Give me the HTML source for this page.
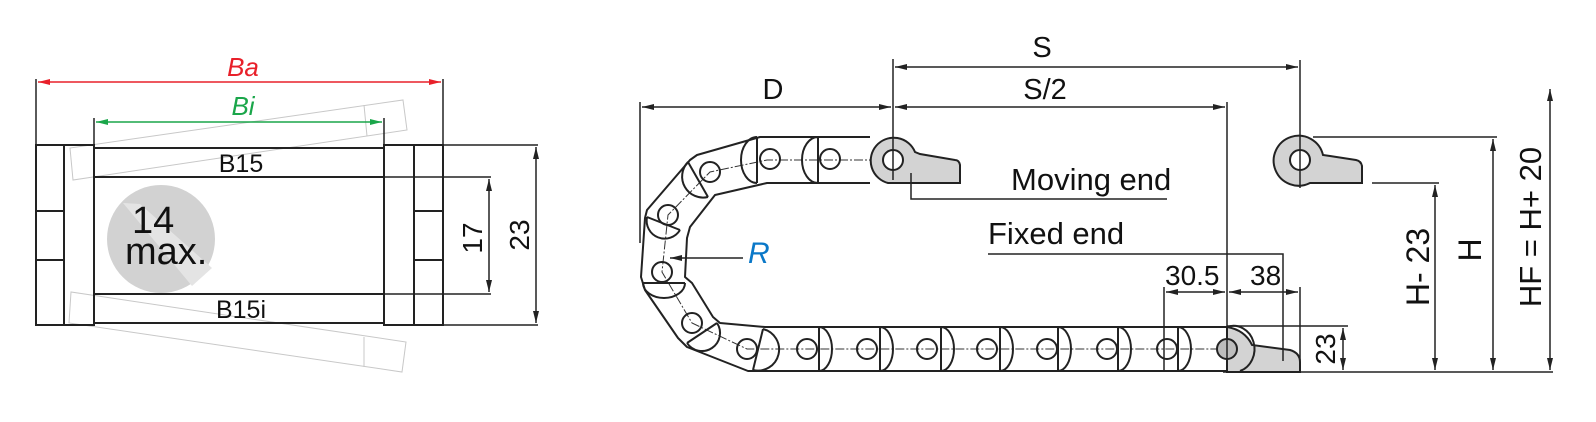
<!DOCTYPE html>
<html><head><meta charset="utf-8"><style>
html,body{margin:0;padding:0;background:#fff;}
svg{display:block;}
text{font-family:"Liberation Sans",Arial,sans-serif;fill:#111;}
</style></head><body>
<svg width="1596" height="422" viewBox="0 0 1596 422" xmlns="http://www.w3.org/2000/svg">
<defs>
<marker id="a" viewBox="0 0 12 6" refX="12" refY="3" markerWidth="12" markerHeight="6" markerUnits="userSpaceOnUse" orient="auto-start-reverse"><path d="M0,0 L12,3 L0,6 Z" fill="#222"/></marker>
<marker id="ar" viewBox="0 0 12 6" refX="12" refY="3" markerWidth="12" markerHeight="6" markerUnits="userSpaceOnUse" orient="auto-start-reverse"><path d="M0,0 L12,3 L0,6 Z" fill="#e8202a"/></marker>
<marker id="ag" viewBox="0 0 12 6" refX="12" refY="3" markerWidth="12" markerHeight="6" markerUnits="userSpaceOnUse" orient="auto-start-reverse"><path d="M0,0 L12,3 L0,6 Z" fill="#1aa64a"/></marker>
</defs>

<g fill="none" stroke="#c8c8c8" stroke-width="1">
<polygon points="70,148 73,180 407,130 403,100"/>
<line x1="364" y1="105" x2="367" y2="136"/>
<polygon points="71,292 69,323 402,372 406,342"/>
<line x1="364" y1="337" x2="364" y2="367"/>
</g>
<circle cx="161" cy="239" r="54" fill="#d2d2d2"/>
<polygon points="123,203 140,204 212,268 192,286" fill="#e4e4e4"/>
<text x="132" y="233" font-size="38">14</text>
<text x="125" y="264" font-size="38">max.</text>

<g stroke="#222" stroke-width="2" fill="none">
<rect x="36" y="145" width="28" height="180"/>
<rect x="64" y="145" width="30" height="180"/>
<line x1="36" y1="211" x2="64" y2="211"/><line x1="36" y1="260" x2="64" y2="260"/>
<rect x="384" y="145" width="30" height="180"/>
<rect x="414" y="145" width="29" height="180"/>
<line x1="414" y1="211" x2="443" y2="211"/><line x1="414" y1="260" x2="443" y2="260"/>
<rect x="94" y="148" width="290" height="29"/>
<rect x="94" y="294" width="290" height="29"/>
<line x1="384" y1="177" x2="491" y2="177" stroke-width="1.5"/>
<line x1="384" y1="294" x2="491" y2="294" stroke-width="1.5"/>
<line x1="443" y1="145" x2="538" y2="145" stroke-width="1.5"/>
<line x1="443" y1="325" x2="538" y2="325" stroke-width="1.5"/>
</g>
<g stroke="#222" stroke-width="1.5">
<line x1="36" y1="79" x2="36" y2="175"/>
<line x1="443" y1="79" x2="443" y2="145"/>
<line x1="94" y1="118" x2="94" y2="148"/>
<line x1="384" y1="118" x2="384" y2="148"/>
<line x1="489" y1="179" x2="489" y2="292" marker-start="url(#a)" marker-end="url(#a)"/>
<line x1="536" y1="147" x2="536" y2="323" marker-start="url(#a)" marker-end="url(#a)"/>
</g>
<line x1="38" y1="82" x2="441" y2="82" stroke="#e8202a" stroke-width="1.5" marker-start="url(#ar)" marker-end="url(#ar)"/>
<line x1="96" y1="122" x2="382" y2="122" stroke="#1aa64a" stroke-width="1.5" marker-start="url(#ag)" marker-end="url(#ag)"/>
<text x="243" y="76" font-size="26" font-style="italic" text-anchor="middle" style="fill:#e8202a">Ba</text>
<text x="243" y="115" font-size="26" font-style="italic" text-anchor="middle" style="fill:#1aa64a">Bi</text>
<text x="241" y="172" font-size="25" text-anchor="middle">B15</text>
<text x="241" y="318" font-size="25" text-anchor="middle">B15i</text>
<text transform="translate(482,238) rotate(-90)" font-size="28" text-anchor="middle">17</text>
<text transform="translate(529,235) rotate(-90)" font-size="28" text-anchor="middle">23</text>

<path d="M893,160 L767,160 L710,172 L668,215 L662,272 L692,323 L747,349 L1227,349" fill="none" stroke="#333" stroke-width="1" stroke-dasharray="9 2 2 2"/>
<g stroke="#222" stroke-width="2" fill="none" stroke-linejoin="round">
<path d="M870,137 L760,137 L697,155 L690,160 L647,210 L645,218 L641,277 L645,290 L678,338 L687,347 L748,371 L1227,371"/>
<path d="M870,183 L767,183 L715,195 L690,227 L687,238 L685,277 L692,283 L713,317 L720,323 L765,327 L1227,327"/>
<path d="M757,137 L757,183 M757,137 A16,23 0 0,0 757,183"/>
<path d="M818,137 L818,183 M818,137 A16,23 0 0,0 818,183"/>
<path d="M688,162 L708,197 M688,162 A21,21 0 0,0 708,197"/>
<path d="M647,217 L680,230 M647,217 A18,18 0 0,0 680,230"/>
<path d="M643,283 L685,283 M643,283 A21,15 0 0,0 685,283"/>
<path d="M687,343 L717,323 M717,323 A18,18 0 0,1 687,343"/>
<path d="M763,329 L753,370 M763,329 A21,21 0 0,1 753,370"/>
<path d="M819,327 L819,371 M819,327 A13,22 0 0,1 819,371"/>
<path d="M880,327 L880,371 M880,327 A13,22 0 0,1 880,371"/>
<path d="M941,327 L941,371 M941,327 A13,22 0 0,1 941,371"/>
<path d="M1000,327 L1000,371 M1000,327 A13,22 0 0,1 1000,371"/>
<path d="M1058,327 L1058,371 M1058,327 A13,22 0 0,1 1058,371"/>
<path d="M1118,327 L1118,371 M1118,327 A13,22 0 0,1 1118,371"/>
<path d="M1178,327 L1178,371 M1178,327 A13,22 0 0,1 1178,371"/>
</g>
<g stroke="#222" stroke-width="2" fill="none">
<circle cx="770" cy="159" r="10"/><circle cx="830" cy="159" r="10"/>
<circle cx="710" cy="172" r="10"/><circle cx="668" cy="215" r="10"/>
<circle cx="662" cy="272" r="10"/><circle cx="692" cy="323" r="10"/>
<circle cx="747" cy="349" r="10"/><circle cx="807" cy="349" r="10"/>
<circle cx="867" cy="349" r="10"/><circle cx="927" cy="349" r="10"/>
<circle cx="987" cy="349" r="10"/><circle cx="1047" cy="349" r="10"/>
<circle cx="1107" cy="349" r="10"/><circle cx="1167" cy="349" r="10"/>
</g>
<path d="M915,152 A23,23 0 1,0 888,183 L960,183 L960,165 Q959,160 955,160 L920,154 Z" fill="#d3d3d3" stroke="#222" stroke-width="2"/>
<circle cx="893" cy="160" r="10" fill="#fff" stroke="#222" stroke-width="2"/>
<path d="M1227,327 Q1245,330 1252,345 L1290,350 Q1300,353 1300,362 L1300,372 L1227,372 Z" fill="#d3d3d3" stroke="#222" stroke-width="2"/>
<path d="M1227,327 A20,22 0 0,1 1240,371" fill="none" stroke="#222" stroke-width="2"/>
<circle cx="1227" cy="349" r="10" fill="#bdbdbd" stroke="#222" stroke-width="2"/>
<path d="M1323,155 A25,25 0 1,0 1310,183 L1362,183 L1362,166 Q1361,161 1356,160 L1330,156 Z" fill="#d3d3d3" stroke="#222" stroke-width="2"/>
<circle cx="1300" cy="160" r="10" fill="#fff" stroke="#222" stroke-width="2"/>

<g stroke="#222" stroke-width="1.5" fill="none">
<line x1="640" y1="102" x2="640" y2="243"/>
<line x1="893" y1="59" x2="893" y2="180"/>
<line x1="1227" y1="102" x2="1227" y2="372"/>
<line x1="1300" y1="60" x2="1300" y2="188"/>
<line x1="642" y1="107" x2="891" y2="107" marker-start="url(#a)" marker-end="url(#a)"/>
<line x1="895" y1="107" x2="1225" y2="107" marker-start="url(#a)" marker-end="url(#a)"/>
<line x1="895" y1="67" x2="1298" y2="67" marker-start="url(#a)" marker-end="url(#a)"/>
<path d="M911,173 L911,199 L1167,199"/>
<path d="M988,254 L1283,254 L1283,361"/>
<line x1="1164" y1="287" x2="1164" y2="372"/>
<line x1="1300" y1="287" x2="1300" y2="372"/>
<line x1="1166" y1="292" x2="1225" y2="292" marker-start="url(#a)" marker-end="url(#a)"/>
<line x1="1229" y1="292" x2="1298" y2="292" marker-start="url(#a)" marker-end="url(#a)"/>
<line x1="1227" y1="326" x2="1348" y2="326"/>
<line x1="1343" y1="328" x2="1343" y2="370" marker-start="url(#a)" marker-end="url(#a)"/>
<line x1="1223" y1="372" x2="1553" y2="372"/>
<line x1="1313" y1="137" x2="1497" y2="137"/>
<line x1="1372" y1="183" x2="1439" y2="183"/>
<line x1="1435" y1="185" x2="1435" y2="370" marker-start="url(#a)" marker-end="url(#a)"/>
<line x1="1493" y1="139" x2="1493" y2="370" marker-start="url(#a)" marker-end="url(#a)"/>
<line x1="1550" y1="89" x2="1550" y2="370" marker-start="url(#a)" marker-end="url(#a)"/>
<line x1="743" y1="258" x2="670" y2="258" marker-end="url(#a)"/>
</g>
<text x="773" y="99" font-size="29" text-anchor="middle">D</text>
<text x="1042" y="57" font-size="29" text-anchor="middle">S</text>
<text x="1045" y="99" font-size="29" text-anchor="middle">S/2</text>
<text x="1011" y="190" font-size="31">Moving end</text>
<text x="988" y="244" font-size="31">Fixed end</text>
<text x="1165" y="285" font-size="28">30.5</text>
<text x="1250" y="285" font-size="28">38</text>
<text x="748" y="263" font-size="30" font-style="italic" style="fill:#0a78c8">R</text>
<text transform="translate(1335,349) rotate(-90)" font-size="28" text-anchor="middle">23</text>
<text transform="translate(1429,267) rotate(-90)" font-size="32" text-anchor="middle">H- 23</text>
<text transform="translate(1481,250) rotate(-90)" font-size="32" text-anchor="middle">H</text>
<text transform="translate(1541,227) rotate(-90)" font-size="31" text-anchor="middle">HF = H+ 20</text>
</svg>
</body></html>
